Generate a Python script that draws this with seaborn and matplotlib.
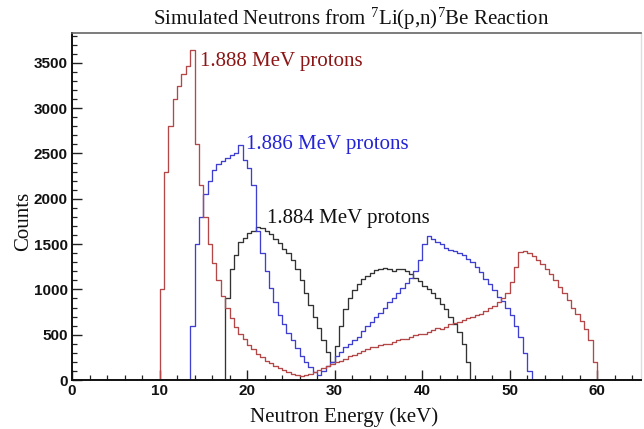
import numpy as np
import pandas as pd
import matplotlib
matplotlib.use("Agg")
import matplotlib.pyplot as plt
import seaborn as sns
from matplotlib.ticker import MultipleLocator

# ---------------- data (0.5 keV bins, counts per bin) ----------------
bin_width = 0.5
x_max = 65.0

red_start = 10.0   # 1.888 MeV protons
red_counts = [1000, 2300, 2800, 3100, 3250, 3380, 3470, 3640, 2600, 2150,
              1800, 1500, 1290, 1100, 930, 800, 680, 580, 510, 450,
              390, 340, 290, 250, 215, 190, 160, 130, 105, 85,
              65, 50, 40, 50, 65, 85, 110, 135, 150, 175,
              195, 215, 235, 260, 275, 300, 320, 345, 365, 360,
              385, 400, 395, 420, 440, 455, 450, 475, 495, 510,
              505, 530, 550, 570, 560, 590, 615, 630, 645, 660,
              680, 700, 720, 730, 760, 800, 820, 860, 900, 960,
              1080, 1250, 1410, 1420, 1400, 1370, 1330, 1280, 1230, 1170,
              1100, 1030, 960, 880, 800, 730, 650, 560, 440, 200]

blue_start = 13.5  # 1.886 MeV protons
blue_counts = [600, 1500, 1800, 2050, 2200, 2320, 2380, 2420, 2450, 2480,
               2500, 2590, 2430, 2340, 2150, 1650, 1400, 1200, 1020, 860,
               720, 620, 520, 440, 350, 270, 200, 140, 90, 60,
               100, 150, 200, 260, 310, 360, 400, 440, 480, 540,
               600, 640, 690, 740, 800, 860, 900, 960, 1020, 1070,
               1130, 1200, 1330, 1500, 1590, 1560, 1520, 1500, 1460, 1440,
               1420, 1400, 1380, 1340, 1300, 1250, 1190, 1120, 1060, 990,
               920, 870, 800, 720, 600, 470, 300, 100]

black_start = 17.5  # 1.884 MeV protons
black_counts = [900, 1220, 1380, 1520, 1570, 1620, 1650, 1690, 1680, 1650,
                1610, 1560, 1510, 1450, 1400, 1320, 1220, 1100, 960, 830,
                700, 570, 440, 310, 200, 370, 600, 780, 900, 990,
                1060, 1110, 1150, 1180, 1210, 1220, 1240, 1220, 1200, 1230,
                1220, 1200, 1170, 1130, 1090, 1040, 1000, 960, 900, 840,
                780, 700, 620, 530, 400, 200]

series_names = ["1.888 MeV protons", "1.886 MeV protons", "1.884 MeV protons"]
line_colors = ["#b44848", "#4040d0", "#333333"]
text_colors = ["#8c1515", "#2424d6", "#111111"]
label_pos = [(14.6, 3520), (19.85, 2600), (22.3, 1780)]

x_ticks = [0, 10, 20, 30, 40, 50, 60]
y_ticks = [0, 500, 1000, 1500, 2000, 2500, 3000, 3500]

# ---------------- build long table ----------------
rows = []
for name, start, counts in zip(series_names,
                               [red_start, blue_start, black_start],
                               [red_counts, blue_counts, black_counts]):
    for i, c in enumerate(counts):
        rows.append({"series": name,
                     "energy": start + bin_width * (i + 0.5),
                     "counts": float(c)})
df = pd.DataFrame(rows)

# ---------------- figure ----------------
sns.set_theme(style="ticks")
plt.rcParams["mathtext.fontset"] = "custom"
plt.rcParams["mathtext.rm"] = "Liberation Serif"
plt.rcParams["mathtext.it"] = "Liberation Serif:italic"

fig = plt.figure(figsize=(6.44, 4.29), dpi=100)
ax = fig.add_axes([72 / 644, 49 / 429, 569 / 644, 347 / 429])

sns.histplot(data=df, x="energy", weights="counts", hue="series",
             hue_order=series_names, palette=line_colors,
             binwidth=bin_width, binrange=(0.0, x_max),
             element="step", fill=False, linewidth=0.95, legend=False, ax=ax)

ax.set_xlim(0, x_max)
ax.set_ylim(0, 3830)

ax.xaxis.set_minor_locator(MultipleLocator(2))
ax.yaxis.set_minor_locator(MultipleLocator(100))
ax.set_xticks(x_ticks)
ax.set_yticks(y_ticks)
ax.set_xticklabels([str(t) for t in x_ticks])
ax.set_yticklabels([str(t) for t in y_ticks])

ax.tick_params(axis="both", which="major", direction="in", length=7,
               width=1.0, color="#222222", labelsize=11, pad=3)
ax.tick_params(axis="both", which="minor", direction="in", length=3.5,
               width=0.9, color="#222222")
for lab in ax.get_xticklabels() + ax.get_yticklabels():
    lab.set_fontfamily("Liberation Sans")
    lab.set_fontweight("bold")
    lab.set_color("#111111")

for side in ["left", "bottom"]:
    ax.spines[side].set_color("#111111")
    ax.spines[side].set_linewidth(1.4)
ax.spines["top"].set_visible(True)
ax.spines["top"].set_color("#666666")
ax.spines["top"].set_linewidth(1.2)
ax.spines["right"].set_visible(True)
ax.spines["right"].set_color("#dddddd")
ax.spines["right"].set_linewidth(1.0)

ax.set_xlabel("Neutron Energy (keV)", family="Liberation Serif",
              fontsize=15, color="#111111")
ax.xaxis.set_label_coords(0.478, -0.107)
ax.xaxis.label.set_verticalalignment("center")
ax.set_ylabel("Counts", family="Liberation Serif", fontsize=15,
              color="#111111")
ax.yaxis.set_label_coords(-0.085, 0.458)
ax.yaxis.label.set_verticalalignment("center")

fig.text(0.545, 0.955,
         r"Simulated Neutrons from $^{7}$Li(p,n)$^{7}$Be Reaction",
         family="Liberation Serif", fontsize=15, color="#111111",
         ha="center", va="center")

for name, (ex, ey), tc in zip(series_names, label_pos, text_colors):
    ax.text(ex, ey, name, family="Liberation Serif", fontsize=15,
            color=tc, ha="left", va="center")

fig.savefig("out.png", dpi=100)
